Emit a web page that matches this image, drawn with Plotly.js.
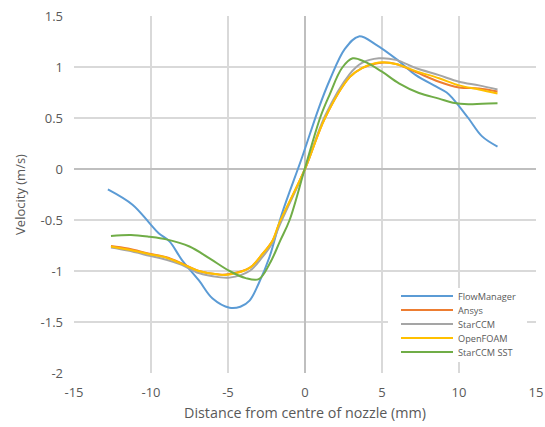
<!DOCTYPE html>
<html>
<head>
<meta charset="utf-8">
<script src="https://cdn.plot.ly/plotly-3.0.1.min.js"></script>
<style>html,body{margin:0;padding:0;background:#fff;}#chart{width:545px;height:427px;}</style>
</head>
<body>
<div id="chart"></div>
<script>
const seriesNames = ["FlowManager", "Ansys", "StarCCM", "OpenFOAM", "StarCCM SST"];
const seriesColors = ["#5B9BD5", "#ED7D31", "#A5A5A5", "#FFC000", "#70AD47"];

const flowX = [-12.8,-11.2,-10.1,-9.5,-8.8,-8.0,-6.9,-6.0,-4.9,-4.2,-3.6,-3.0,-2.3,-1.5,-0.2,0.9,1.6,2.6,3.5,4.6,6.0,7.2,8.5,9.2,9.6,10.6,11.5,12.5];
const flowV = [-0.20,-0.35,-0.53,-0.63,-0.71,-0.89,-1.09,-1.27,-1.36,-1.35,-1.29,-1.12,-0.86,-0.44,0.11,0.60,0.87,1.18,1.30,1.22,1.07,0.92,0.81,0.75,0.69,0.50,0.32,0.22];

const ansysX = [-12.6,-11.5,-10.1,-9.0,-8.0,-6.9,-5.6,-4.9,-3.6,-2.8,-2.1,-1.7,0.0,1.3,2.9,3.7,4.8,5.9,7.2,8.7,10.0,11.3,12.5];
const ansysV = [-0.755,-0.78,-0.83,-0.866,-0.925,-1.0,-1.035,-1.03,-0.97,-0.84,-0.70,-0.55,0.0,0.5,0.9,0.99,1.04,1.03,0.95,0.856,0.80,0.79,0.76];

const starX = [-12.6,-11.5,-10.1,-9.0,-8.0,-6.9,-5.6,-4.9,-3.6,-2.8,-2.1,-1.7,0.0,1.3,2.9,3.7,4.8,5.9,7.2,8.7,10.0,11.3,12.5];
const starV = [-0.77,-0.80,-0.85,-0.89,-0.94,-1.02,-1.06,-1.065,-1.0,-0.87,-0.72,-0.57,0.0,0.52,0.93,1.04,1.085,1.07,0.99,0.92,0.856,0.82,0.78];

const foamX = [-12.6,-11.5,-10.1,-9.0,-8.0,-6.9,-5.6,-4.9,-3.6,-2.8,-2.1,-1.7,0.0,1.3,2.9,3.7,4.8,5.9,7.2,8.7,10.0,11.3,12.5];
const foamV = [-0.76,-0.79,-0.835,-0.87,-0.93,-1.0,-1.035,-1.035,-0.97,-0.84,-0.70,-0.54,0.0,0.5,0.9,0.99,1.045,1.03,0.96,0.89,0.82,0.78,0.74];

const sstX = [-12.6,-11.3,-10.1,-9.0,-7.5,-6.2,-4.9,-3.85,-3.0,-2.3,-1.6,-1.0,0.0,1.0,1.6,2.4,3.1,3.9,5.0,6.1,7.4,8.7,9.6,10.6,11.5,12.5];
const sstV = [-0.657,-0.647,-0.664,-0.69,-0.76,-0.876,-1.0,-1.07,-1.08,-0.93,-0.70,-0.50,0.01,0.51,0.73,0.99,1.085,1.05,0.954,0.84,0.745,0.69,0.65,0.634,0.64,0.644];

const xs = [flowX, ansysX, starX, foamX, sstX];
const vs = [flowV, ansysV, starV, foamV, sstV];

const traces = seriesNames.map((n, i) => ({
  type: "scatter", mode: "lines", name: n,
  x: xs[i], y: vs[i],
  line: {color: seriesColors[i], width: 2, shape: "spline", smoothing: 1.0},
  showlegend: false
}));

// custom legend (paper coordinates)
const W = 545, H = 427, L = 74, R = 9, T = 16, B = 54;
const pw = W - L - R, ph = H - T - B;
const px2x = p => (p - L) / pw;
const py2y = p => (H - B - p) / ph;
const shapes = [{
  type: "rect", xref: "paper", yref: "paper",
  x0: px2x(388), x1: px2x(527), y0: py2y(362), y1: py2y(288),
  fillcolor: "#ffffff", line: {width: 0}, layer: "above"
}];
const annotations = [];
seriesNames.forEach((n, i) => {
  const yy = py2y(296 + 14 * i);
  shapes.push({type: "line", xref: "paper", yref: "paper", x0: px2x(401), x1: px2x(453), y0: yy, y1: yy,
    line: {color: seriesColors[i], width: 2}, layer: "above"});
  annotations.push({xref: "paper", yref: "paper", x: px2x(456), y: yy, xanchor: "left", yanchor: "middle",
    text: n, showarrow: false, font: {size: 9.2, color: "#595959", family: "Open Sans, sans-serif"}});
});

const fontFam = "Open Sans, sans-serif";
const layout = {
  width: W, height: H,
  margin: {l: L, r: R, t: T, b: B},
  paper_bgcolor: "#fff", plot_bgcolor: "#fff",
  showlegend: false,
  font: {family: fontFam, color: "#595959", size: 13},
  shapes: shapes, annotations: annotations,
  xaxis: {
    range: [-15, 15], tickvals: [-15,-10,-5,0,5,10,15], ticktext: ["-15","-10","-5","0","5","10","15"],
    showgrid: true, gridcolor: "#d9d9d9", gridwidth: 1.3,
    zeroline: true, zerolinecolor: "#bfbfbf", zerolinewidth: 1.6,
    showline: false, ticks: "", ticklabelstandoff: 10,
    tickfont: {size: 13, color: "#595959", family: fontFam},
    title: {text: "Distance from centre of nozzle (mm)", font: {size: 14.3, color: "#595959", family: fontFam}, standoff: 7},
    fixedrange: true
  },
  yaxis: {
    range: [-2, 1.5], tickvals: [-2,-1.5,-1,-0.5,0,0.5,1,1.5], ticktext: ["-2","-1.5","-1","-0.5","0","0.5","1","1.5"],
    showgrid: true, gridcolor: "#d9d9d9", gridwidth: 1.3,
    zeroline: true, zerolinecolor: "#bfbfbf", zerolinewidth: 1.6,
    showline: false, ticks: "", ticklabelstandoff: 10,
    tickfont: {size: 13, color: "#595959", family: fontFam},
    title: {text: "Velocity (m/s)", font: {size: 13, color: "#595959", family: fontFam}, standoff: 11},
    fixedrange: true
  }
};

Plotly.newPlot("chart", traces, layout, {displayModeBar: false, staticPlot: true});
</script>
</body>
</html>
